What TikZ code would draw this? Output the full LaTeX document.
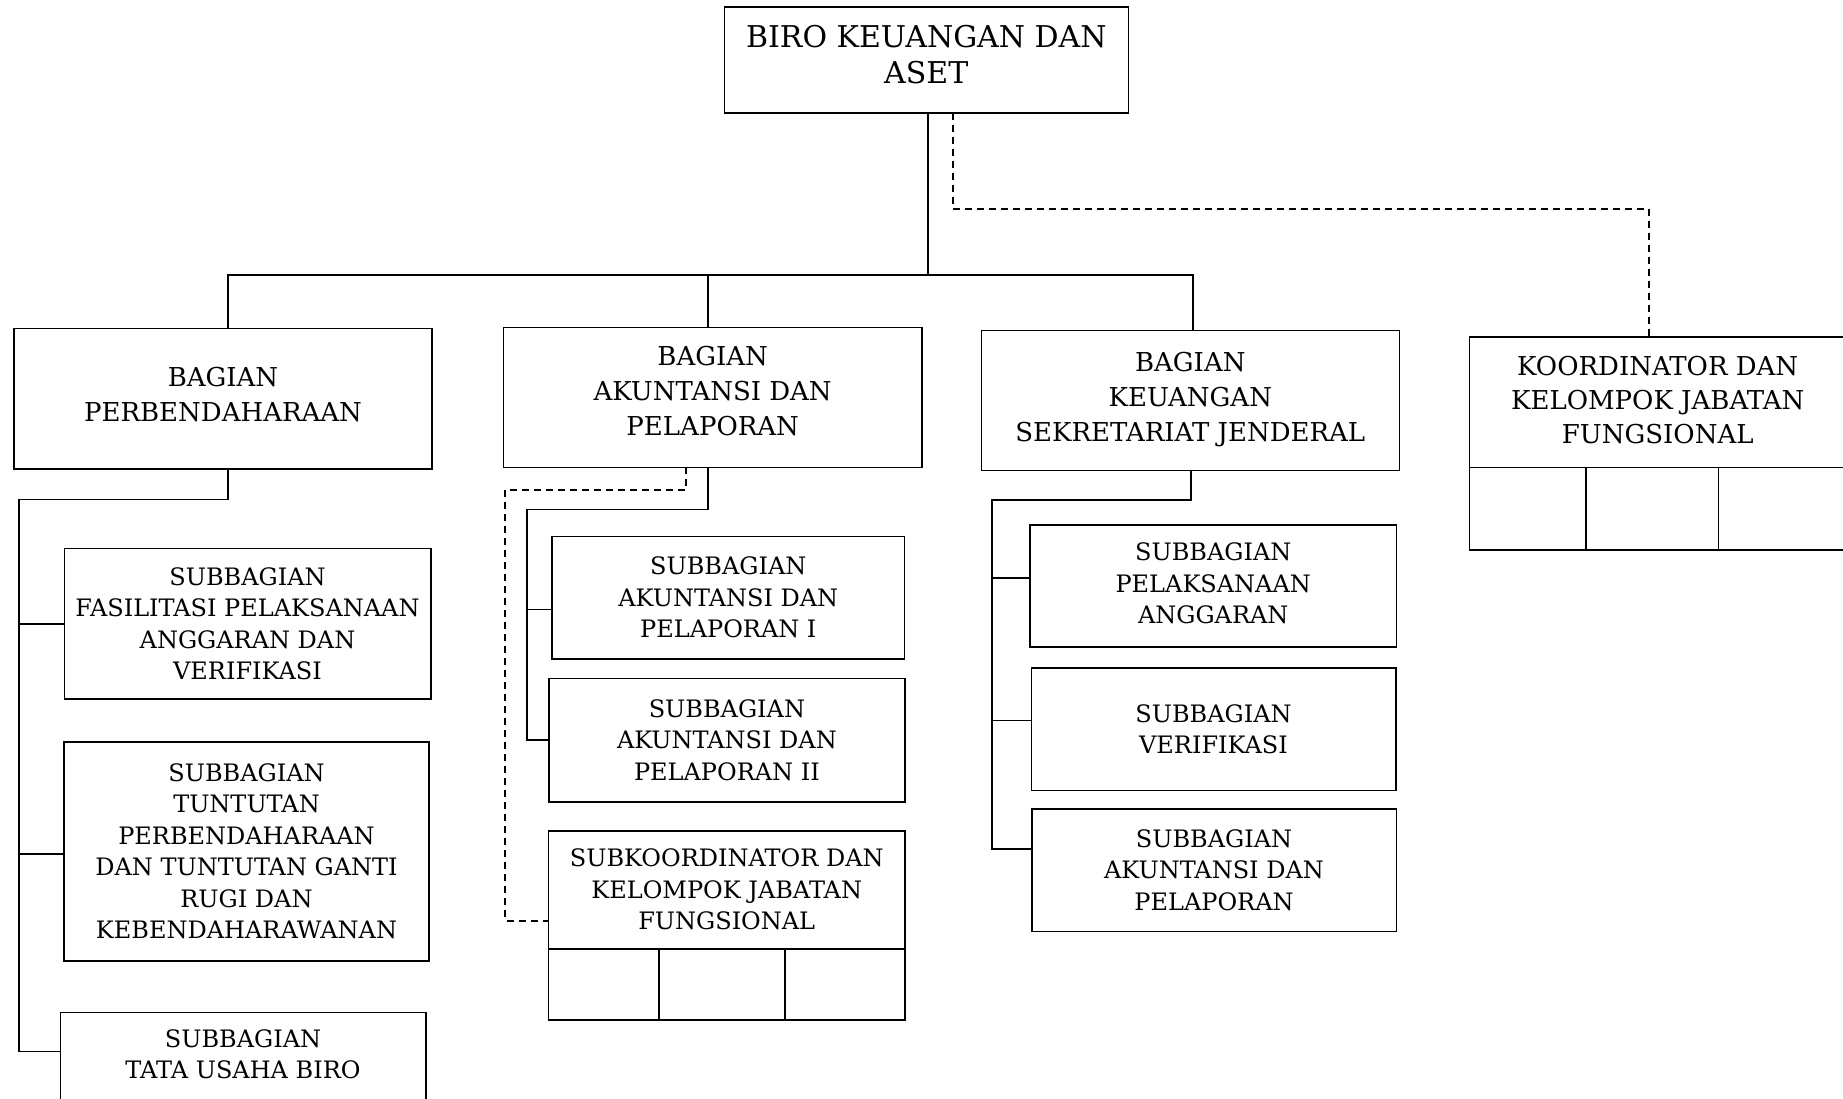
\documentclass[tikz,border=0pt]{standalone}
\usepackage{fontspec}
\setmainfont{DejaVu Serif}

\tikzset{
	orgbox/.style={draw, line width=1.6pt, inner sep=0pt, outer sep=0pt, align=center},
	headbox/.style={orgbox, font=\fontsize{30}{36}\selectfont},
	partbox/.style={orgbox, font=\fontsize{26}{35}\selectfont},
	subbox/.style={orgbox, font=\fontsize{24}{31.5}\selectfont},
	cellbox/.style={draw, line width=1.6pt, inner sep=0pt, outer sep=0pt, anchor=north west},
	solidlink/.style={line width=1.6pt},
	dashlink/.style={line width=1.6pt, dash pattern=on 7pt off 5pt},
}

\begin{document}
\begin{tikzpicture}[x=1pt,y=-1pt]
			\useasboundingbox (0,0) rectangle (1843,1099);
			\clip (0,0) rectangle (1843,1099);
			\node[headbox, minimum width=404pt, minimum height=106pt, text depth=12pt] (biro) at (926.3,60.3) {BIRO KEUANGAN DAN\\ASET};
			\node[partbox, minimum width=418pt, minimum height=140.4pt, text depth=9pt] (perb) at (223,398.5) {BAGIAN\\PERBENDAHARAAN};
			\node[partbox, minimum width=418.7pt, minimum height=140pt, text depth=13pt] (akun) at (712.7,397.3) {BAGIAN\\AKUNTANSI DAN\\PELAPORAN};
			\node[partbox, minimum width=418pt, minimum height=140pt, text depth=7pt] (keu) at (1190.3,400.6) {BAGIAN\\KEUANGAN\\SEKRETARIAT JENDERAL};
			\node[partbox, minimum width=376.7pt, minimum height=130.6pt, text depth=5pt, font=\fontsize{26}{34}\selectfont] (koord) at (1657.7,402) {KOORDINATOR DAN\\KELOMPOK JABATAN\\FUNGSIONAL};
			\node[cellbox, minimum width=116.4pt, minimum height=82.7pt] (koord-1) at (koord.south west) {};
			\node[cellbox, minimum width=132.6pt, minimum height=82.7pt] (koord-2) at (koord-1.north east) {};
			\node[cellbox, minimum width=127.7pt, minimum height=82.7pt] (koord-3) at (koord-2.north east) {};

			\node[subbox, minimum width=366.4pt, minimum height=150.7pt] (perb-a) at (247.5,623.7) {SUBBAGIAN\\FASILITASI PELAKSANAAN\\ANGGARAN DAN\\VERIFIKASI};
			\node[subbox, minimum width=365pt, minimum height=219pt] (perb-b) at (246.5,851.2) {SUBBAGIAN\\TUNTUTAN\\PERBENDAHARAAN\\DAN TUNTUTAN GANTI\\RUGI DAN\\KEBENDAHARAWANAN};
			\node[subbox, minimum width=365.4pt, minimum height=120pt, text depth=36pt] (perb-c) at (243,1072.3) {SUBBAGIAN\\TATA USAHA BIRO};

			\node[subbox, minimum width=352.7pt, minimum height=122.7pt] (akun-a) at (728.3,597.7) {SUBBAGIAN\\AKUNTANSI DAN\\PELAPORAN I};
			\node[subbox, minimum width=355.7pt, minimum height=123.4pt] (akun-b) at (726.9,740) {SUBBAGIAN\\AKUNTANSI DAN\\PELAPORAN II};
			\node[subbox, minimum width=356.7pt, minimum height=118pt] (akun-jf) at (726.7,889.7) {SUBKOORDINATOR DAN\\KELOMPOK JABATAN\\FUNGSIONAL};
			\node[cellbox, minimum width=110.7pt, minimum height=71pt] (akun-jf-1) at (akun-jf.south west) {};
			\node[cellbox, minimum width=126pt, minimum height=71pt] (akun-jf-2) at (akun-jf-1.north east) {};
			\node[cellbox, minimum width=120pt, minimum height=71pt] (akun-jf-3) at (akun-jf-2.north east) {};

			\node[subbox, minimum width=366.3pt, minimum height=122.2pt, text depth=5pt] (keu-a) at (1213.2,585.8) {SUBBAGIAN\\PELAKSANAAN\\ANGGARAN};
			\node[subbox, minimum width=364.4pt, minimum height=122.6pt] (keu-b) at (1213.5,729.1) {SUBBAGIAN\\VERIFIKASI};
			\node[subbox, minimum width=364.6pt, minimum height=122.6pt] (keu-c) at (1214,870.2) {SUBBAGIAN\\AKUNTANSI DAN\\PELAPORAN};

			\coordinate (bus) at (928,275);
			\coordinate (side) at (953,209);
			\draw[solidlink] (biro.south -| bus) -- (bus);
			\draw[solidlink] ([xshift=5pt]perb.north) |- (bus) -| ([xshift=2.4pt]keu.north);
			\draw[solidlink] ([xshift=-5pt]akun.north) -- ([xshift=-5pt]akun.north |- bus);
			\draw[dashlink] (biro.south -| side) -- (side) -| ([xshift=-8.7pt]koord.north);

			\coordinate (perb-bus) at (19,499.3);
			\draw[solidlink] ([xshift=5pt]perb.south) |- (perb-bus) |- ([yshift=-39pt]perb-c.north west);
			\draw[solidlink] (perb-a.west) -- (perb-a.west -| perb-bus);
			\draw[solidlink] ([yshift=-2.8pt]perb-b.west) -| (perb-bus);

			\coordinate (akun-bus) at (526.7,509.3);
			\coordinate (akun-side) at (505,490);
			\draw[solidlink] ([xshift=-5pt]akun.south) |- (akun-bus) |- (akun-b.west);
			\draw[solidlink] ([yshift=-11.6pt]akun-a.west) -| (akun-bus);
			\draw[dashlink] ([xshift=-26.7pt]akun.south) |- (akun-side) |- ([yshift=-31pt]akun-jf.west);

			\coordinate (keu-bus) at (991.7,499.8);
			\draw[solidlink] ([xshift=0.7pt]keu.south) |- (keu-bus) |- ([yshift=21.3pt]keu-c.west);
			\draw[solidlink] ([yshift=8.1pt]keu-a.west) -| (keu-bus);
			\draw[solidlink] ([yshift=8.7pt]keu-b.west) -| (keu-bus);
		\end{tikzpicture}
\end{document}
